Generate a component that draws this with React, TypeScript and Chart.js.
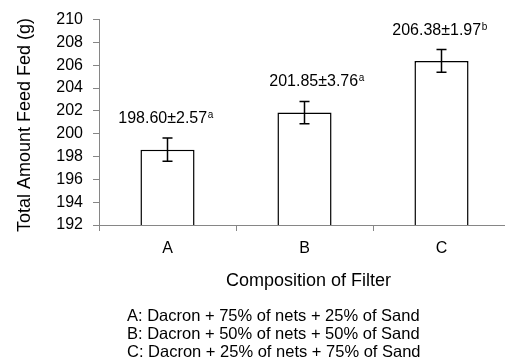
import React, { useEffect, useRef } from "react";
import { Chart, registerables } from "chart.js";

Chart.register(...registerables);

const categories = ["A", "B", "C"];
const means = [198.6, 201.85, 206.38];
const errors = [1.02, 0.98, 0.99];
const labelText = ["198.60±2.57", "201.85±3.76", "206.38±1.97"];
const labelSup = ["a", "a", "b"];
const yMin = 192;
const yMax = 210;
const yStep = 2;
const yTitle = "Total Amount Feed Fed (g)";
const xTitle = "Composition of Filter";
const notes = [
  "A: Dacron + 75% of nets + 25% of Sand",
  "B: Dacron + 50% of nets + 50% of Sand",
  "C: Dacron + 25% of nets + 75% of Sand",
];

const FONT = "'Liberation Sans', Arial, sans-serif";
const AXIS = "#868686";

const extrasPlugin = {
  id: "extras",
  afterDatasetsDraw(chart: any) {
    const ctx = chart.ctx;
    const ys = chart.scales.y;
    const meta = chart.getDatasetMeta(0);
    const ca = chart.chartArea;
    const labelShift = [-2, 12, -2];
    ctx.save();
    // error bars
    ctx.strokeStyle = "#000";
    ctx.lineWidth = 1.5;
    meta.data.forEach((bar: any, i: number) => {
      const x = bar.x;
      const yTop = ys.getPixelForValue(means[i] + errors[i]);
      const yBot = ys.getPixelForValue(means[i] - errors[i]);
      ctx.beginPath();
      ctx.moveTo(x, yTop);
      ctx.lineTo(x, yBot);
      ctx.moveTo(x - 5, yTop);
      ctx.lineTo(x + 5, yTop);
      ctx.moveTo(x - 5, yBot);
      ctx.lineTo(x + 5, yBot);
      ctx.stroke();
    });
    // value labels
    ctx.fillStyle = "#000";
    ctx.textBaseline = "alphabetic";
    ctx.textAlign = "left";
    meta.data.forEach((bar: any, i: number) => {
      const mainFont = `16px ${FONT}`;
      const supFont = `10px ${FONT}`;
      ctx.font = mainFont;
      const w1 = ctx.measureText(labelText[i]).width;
      ctx.font = supFont;
      const w2 = ctx.measureText(labelSup[i]).width;
      const cx = bar.x + labelShift[i];
      const base = ys.getPixelForValue(means[i] + errors[i]) - 15;
      const x0 = cx - (w1 + w2) / 2;
      ctx.font = mainFont;
      ctx.fillText(labelText[i], x0, base);
      ctx.font = supFont;
      ctx.fillText(labelSup[i], x0 + w1 + 0.5, base - 5);
    });
    // y title
    ctx.save();
    ctx.translate(25, 125);
    ctx.rotate(-Math.PI / 2);
    ctx.font = `18px ${FONT}`;
    ctx.textAlign = "center";
    ctx.textBaseline = "middle";
    ctx.fillText(yTitle, 0, 0);
    ctx.restore();
    // x title
    ctx.font = `18px ${FONT}`;
    ctx.textAlign = "center";
    ctx.textBaseline = "middle";
    ctx.fillText(xTitle, (ca.left + ca.right) / 2 + 4, ca.bottom + 56);
    // notes
    ctx.font = `16.5px ${FONT}`;
    ctx.textAlign = "left";
    notes.forEach((t, i) => {
      ctx.fillText(t, 127, ca.bottom + 91 + i * 18.3);
    });
    ctx.restore();
  },
};

export default function App() {
  const ref = useRef<HTMLCanvasElement | null>(null);
  useEffect(() => {
    if (!ref.current) return;
    const chart = new Chart(ref.current, {
      type: "bar",
      data: {
        labels: categories,
        datasets: [
          {
            data: means,
            backgroundColor: "#ffffff",
            borderColor: "#000000",
            borderWidth: 1.5,
            barPercentage: 0.395,
            categoryPercentage: 1,
          },
        ],
      },
      options: {
        animation: false,
        responsive: true,
        maintainAspectRatio: false,
        layout: { padding: { top: 16, right: 2, left: 0, bottom: 0 } },
        plugins: { legend: { display: false }, tooltip: { enabled: false } },
        scales: {
          x: {
            grid: {
              display: true,
              drawOnChartArea: false,
              drawTicks: true,
              tickLength: 6,
              color: AXIS,
              offset: true,
            },
            border: { color: AXIS, width: 1 },
            ticks: { color: "#000", font: { family: FONT, size: 16 }, padding: 8 },
            afterFit: (s: any) => {
              s.height = 137;
            },
          },
          y: {
            min: yMin,
            max: yMax,
            grid: {
              display: true,
              drawOnChartArea: false,
              drawTicks: true,
              tickLength: 6,
              color: AXIS,
            },
            border: { color: AXIS, width: 1 },
            ticks: {
              stepSize: yStep,
              color: "#000",
              font: { family: FONT, size: 16 },
              padding: 10,
            },
            afterFit: (s: any) => {
              s.width = 99;
            },
          },
        },
      },
      plugins: [extrasPlugin],
    });
    return () => chart.destroy();
  }, []);
  return (
    <div style={{ position: "fixed", left: 0, top: 0, width: 512, height: 362 }}>
      <canvas ref={ref} />
    </div>
  );
}
